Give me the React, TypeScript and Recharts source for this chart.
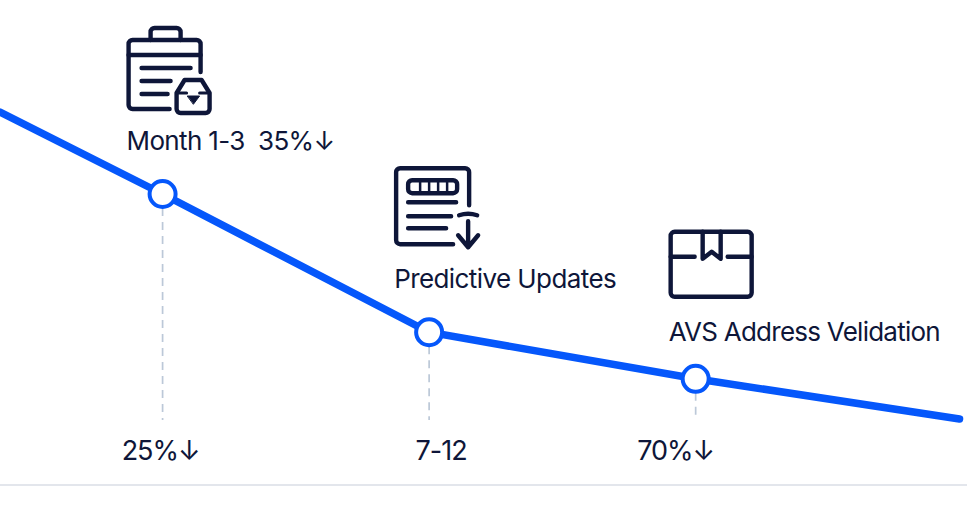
import { LineChart, Line, XAxis, YAxis, ReferenceLine, ReferenceDot } from "recharts";

// month bucket position on the x axis, and the remaining rate at each one
const steps = [0.39, 1, 2, 3, 3.99];
const rates = [76.9, 60, 31.5, 21.9, 13.6];
const milestoneSteps = [1, 2, 3];
const tickLabels = ["25%↓", "7-12", "70%↓"];
const titles = ["Month 1-3  35%↓", "Predictive Updates", "AVS Address Velidation"];
const dashFloor = 13.4;

const data = steps.map((step, i) => ({ step, rate: rates[i] }));

const BLUE = "#0557fb";
const INK = "#0e1639";
const FONT = "Inter, sans-serif";

const tickShift = [-2, 12, -20];

function ClipboardIcon() {
  return (
    <g>
      <path d="M72 44V16a4 4 0 0 0-4-4H4a4 4 0 0 0-4 4V77a4 4 0 0 0 4 4H41" />
      <path d="M22 12V4a4 4 0 0 1 4-4H48a4 4 0 0 1 4 4V12" />
      <path d="M0 27H72M13 40H62M13 53H42M13 66H39" />
      <path d="M48 65L56 52H73L81 65V81a4 4 0 0 1-4 4H52a4 4 0 0 1-4-4Z" />
      <path d="M49 65H58M71 65H80" strokeWidth={3} />
      <path d="M59 68H71L65 76Z" fill={INK} strokeWidth={1} />
    </g>
  );
}

function UpdateIcon() {
  return (
    <g>
      <path d="M73 37V4a4 4 0 0 0-4-4H4a4 4 0 0 0-4 4V72a4 4 0 0 0 4 4H57" />
      <rect x={12} y={12} width={49} height={13} rx={4} />
      <path d="M24 13V24M33 13V24M42 13V24M51 13V24" strokeWidth={2.5} />
      <path d="M12 34H60M12 48H55M12 60H50" />
      <path d="M63 47q9-3 18 0M72 53V79M62 67L72 79L82 67" />
    </g>
  );
}

function BoxIcon() {
  return (
    <g>
      <rect x={0} y={0} width={81} height={65} rx={4} />
      <path d="M0 25H24M57 25H81M32 0V27L41 20L50 27V0" />
    </g>
  );
}

const icons = [ClipboardIcon, UpdateIcon, BoxIcon];
// icon and title placement relative to each milestone dot
const calloutPlacement = [
  { iconX: -34, iconY: -166, textX: -36, textY: -44, spacing: -0.65 },
  { iconX: -33, iconY: -164, textX: -35, textY: -44, spacing: -0.58 },
  { iconX: -25, iconY: -147, textX: -27, textY: -38, spacing: -0.75 },
];

function Callout({ cx, cy, index }: any) {
  const place = calloutPlacement[index];
  const Icon = icons[index];
  return (
    <g>
      <g
        transform={`translate(${cx + place.iconX},${cy + place.iconY})`}
        fill="none"
        stroke={INK}
        strokeWidth={4.4}
        strokeLinecap="round"
        strokeLinejoin="round"
      >
        <Icon />
      </g>
      <text
        x={cx + place.textX}
        y={cy + place.textY}
        fill={INK}
        fontFamily={FONT}
        fontSize={26}
        letterSpacing={place.spacing}
        style={{ whiteSpace: "pre" }}
      >
        {titles[index]}
      </text>
    </g>
  );
}

function StepTick({ x, y, index }: any) {
  return (
    <text
      x={x + tickShift[index]}
      y={y - 33}
      textAnchor="middle"
      fill={INK}
      fontFamily={FONT}
      fontSize={27}
      letterSpacing={-1}
    >
      {tickLabels[index]}
    </text>
  );
}

function MilestoneDot({ cx, cy, payload }: any) {
  if (!milestoneSteps.includes(payload.step)) return <g key={payload.step} />;
  return <circle key={payload.step} cx={cx} cy={cy} r={13} fill="#fff" stroke={BLUE} strokeWidth={4} />;
}

export default function App() {
  return (
    <div style={{ position: "absolute", left: 0, top: 0, width: 967, height: 530, background: "#fff" }}>
      <LineChart width={967} height={530} data={data} margin={{ top: 0, right: 0, bottom: 0, left: 0 }}>
        <XAxis
          dataKey="step"
          type="number"
          domain={[0.39, 4.018]}
          ticks={milestoneSteps}
          interval={0}
          height={45}
          tickLine={false}
          tick={<StepTick />}
          axisLine={{ stroke: "#e3e6ec", strokeWidth: 2 }}
        />
        <YAxis hide domain={[0, 100]} />
        {milestoneSteps.map((step) => (
          <ReferenceLine
            key={step}
            segment={[
              { x: step, y: rates[steps.indexOf(step)] },
              { x: step, y: dashFloor },
            ]}
            stroke="#bcc8d8"
            strokeWidth={1.7}
            strokeDasharray="8 6"
          />
        ))}
        <Line
          dataKey="rate"
          type="linear"
          stroke={BLUE}
          strokeWidth={7.5}
          strokeLinecap="round"
          dot={<MilestoneDot />}
          activeDot={false}
          isAnimationActive={false}
        />
        {milestoneSteps.map((step, i) => (
          <ReferenceDot
            key={step}
            x={step}
            y={rates[steps.indexOf(step)]}
            r={0}
            shape={(props: any) => <Callout {...props} index={i} />}
          />
        ))}
      </LineChart>
    </div>
  );
}
